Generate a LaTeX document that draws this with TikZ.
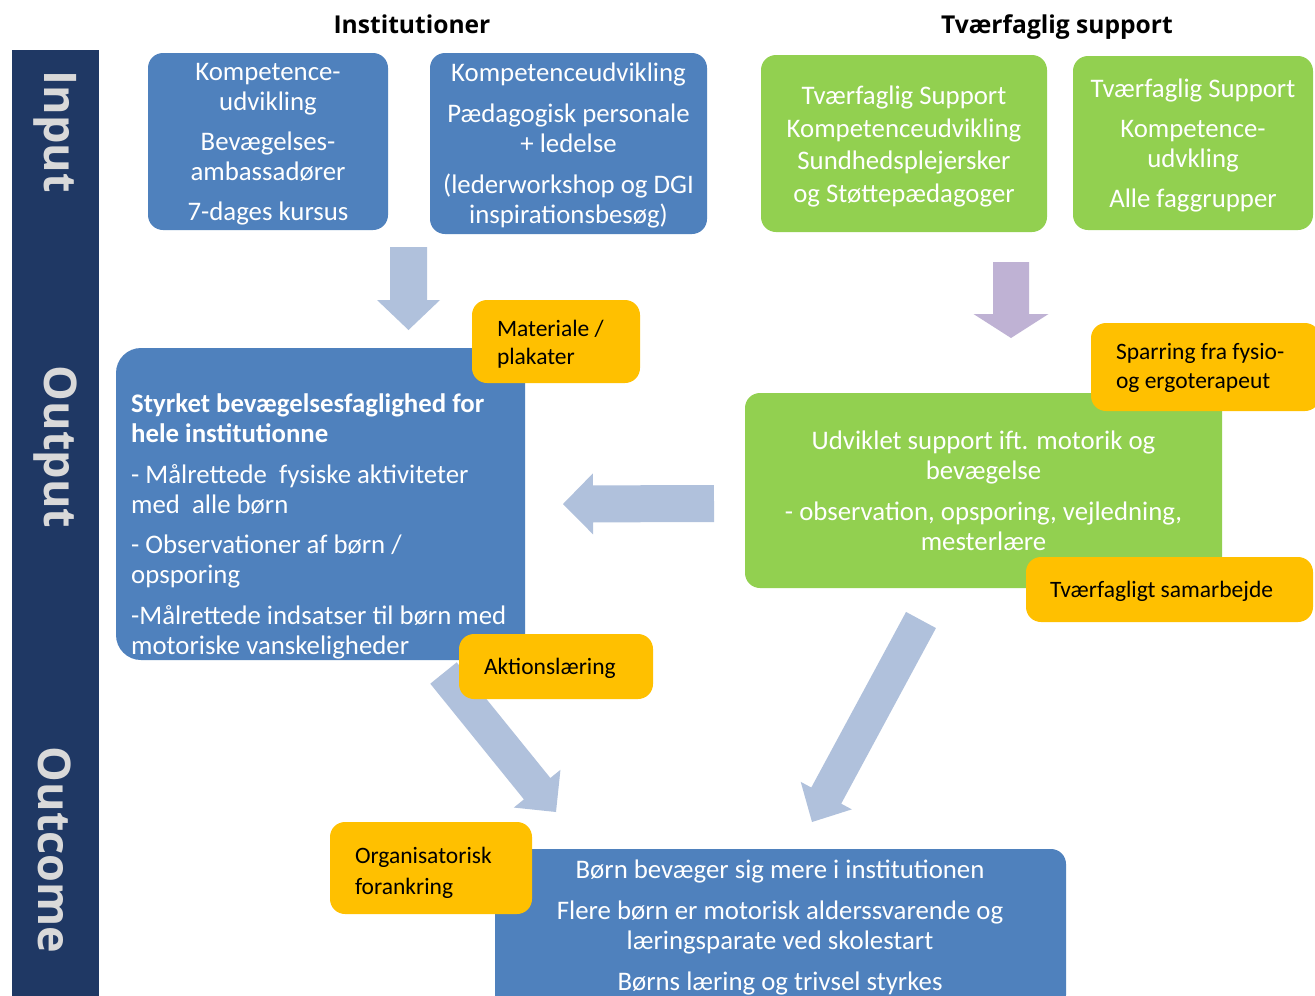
\documentclass[tikz,border=0pt]{standalone}
\usepackage{fontspec}
\setmainfont{Carlito}
\newfontfamily\labelfont{Open Sans}
\usetikzlibrary{calc}
\definecolor{navy}{HTML}{1F3864}
\definecolor{lblgray}{HTML}{D9D9D9}
\definecolor{boxblue}{HTML}{4F81BD}
\definecolor{boxgreen}{HTML}{92D050}
\definecolor{boxyellow}{HTML}{FFC000}
\definecolor{arrblue}{HTML}{B0C1DC}
\definecolor{arrpurple}{HTML}{BFB2D4}
% block arrow: #1 colour, #2 start, #3 tip, #4 shaft half-width, #5 head half-width, #6 head length
\newcommand{\blockarrow}[6]{%
  \path ($(#3)!#6!(#2)$) coordinate (tmpB);
  \fill[#1] ($(#2)!#4!90:(#3)$) -- ($(tmpB)!#4!90:(#3)$) -- ($(tmpB)!#5!90:(#3)$) -- (#3)
    -- ($(tmpB)!#5!-90:(#3)$) -- ($(tmpB)!#4!-90:(#3)$) -- ($(#2)!#4!-90:(#3)$) -- cycle;
}
\tikzset{
  box/.style={rounded corners=15pt, inner sep=0pt},
  bluebox/.style={box, fill=boxblue},
  greenbox/.style={box, fill=boxgreen},
  ybox/.style={box, fill=boxyellow},
  boxtext/.style={inner sep=0pt, align=center, text=white,
    font=\fontsize{26.8}{30}\selectfont},
  ytext/.style={inner sep=0pt, anchor=west, align=left, text=black,
    font=\fontsize{23.5}{29}\selectfont},
  rowlabel/.style={rotate=-90, text=lblgray, inner sep=0pt,
    font=\labelfont\bfseries\fontsize{45}{50}\selectfont},
  header/.style={inner sep=0pt, anchor=base, text=black,
    font=\labelfont\bfseries\fontsize{24.6}{28}\selectfont},
}
\begin{document}
\begin{tikzpicture}[x=1pt,y=-1pt]
\useasboundingbox (0,0) rectangle (1315,996);
\clip (0,0) rectangle (1315,996);
\fill[white] (0,0) rectangle (1315,996);

% side bar
\node[fill=navy, inner sep=0pt, minimum width=87pt, minimum height=960pt, anchor=north west] (bar) at (12,50) {};
\node[rowlabel] (lInput) at (55,132) {Input};
\node[rowlabel] (lOutput) at (55,447) {Output};
\node[rowlabel] (lOutcome) at (55,850) {Outcome};

% headers
\node[header] (hInst) at (412,33) {Institutioner};
\node[header] (hTvf) at (1057,33) {Tværfaglig support};

% input boxes
\node[bluebox, minimum width=240pt, minimum height=177pt] (b1) at (268,141.5) {};
\node[boxtext] (b1t) at ([yshift=-3pt]b1.center)
  {Kompetence-\\udvikling\\[10pt]Bevægelses-\\ambassadører\\[10pt]7-dages kursus};
\node[bluebox, minimum width=277pt, minimum height=181pt] (b2) at (568.5,143.5) {};
\node[boxtext] (b2t) at ([yshift=-2pt]b2.center)
  {Kompetenceudvikling\\[11pt]Pædagogisk personale\\+ ledelse\\[11pt](lederworkshop og DGI\\inspirationsbesøg)};
\node[greenbox, minimum width=286pt, minimum height=177pt] (g1) at (904,143.5) {};
\node[boxtext] (g1t) at ([yshift=-3pt]g1.center)
  {Tværfaglig Support\\[3pt]Kompetenceudvikling\\[2pt]Sundhedsplejersker\\[3pt]og Støttepædagoger};
\node[greenbox, minimum width=240pt, minimum height=174pt] (g2) at (1193,143) {};
\node[boxtext] (g2t) at ([yshift=-2pt]g2.center)
  {Tværfaglig Support\\[10pt]Kompetence-\\udvkling\\[10pt]Alle faggrupper};

% output boxes
\node[bluebox, rounded corners=25pt, minimum width=409pt, minimum height=312pt] (bo) at (320.5,504) {};
\node[boxtext, anchor=north west, align=left] (bot) at (131,393)
  {\textbf{Styrket bevægelsesfaglighed for}\\\textbf{hele institutionne}\\[11pt]- Målrettede\ \ fysiske aktiviteter\\med\ \ alle børn\\[10pt]- Observationer af børn /\\opsporing\\[11pt]-Målrettede indsatser til børn med\\motoriske vanskeligheder};
\node[greenbox, minimum width=477pt, minimum height=195pt] (go) at (983.5,490.5) {};
\node[boxtext] (got) at (go.center)
  {Udviklet support ift. motorik og\\bevægelse\\[11pt]- observation, opsporing, vejledning,\\mesterlære};

% outcome box
\node[bluebox, minimum width=571pt, minimum height=161pt] (bc) at (780.5,929.5) {};
\node[boxtext, anchor=north] (bct) at (780,860)
  {Børn bevæger sig mere i institutionen\\[11pt]Flere børn er motorisk alderssvarende og\\læringsparate ved skolestart\\[11pt]Børns læring og trivsel styrkes};

% arrows
\coordinate (a1s) at (408.5,247); \coordinate (a1e) at (408.5,330);
\coordinate (a2s) at (1011,262);  \coordinate (a2e) at (1011,338);
\coordinate (a3s) at (714,503.5); \coordinate (a3e) at (563,504);
\coordinate (a4s) at (443.5,673); \coordinate (a4e) at (556,812);
\coordinate (a5s) at (921,620);   \coordinate (a5e) at (812,822);
\blockarrow{arrblue}{a1s}{a1e}{18.5pt}{31.5pt}{30pt}
\blockarrow{arrpurple}{a2s}{a2e}{18pt}{37.5pt}{24pt}
\blockarrow{arrblue}{a3s}{a3e}{18.5pt}{30.5pt}{30pt}
\blockarrow{arrblue}{a4s}{a4e}{17pt}{30pt}{30pt}
\blockarrow{arrblue}{a5s}{a5e}{17pt}{29pt}{30pt}

% yellow boxes
\node[ybox, minimum width=168pt, minimum height=83pt] (y1) at (556,341.5) {};
\node[ytext, font=\fontsize{23.5}{28}\selectfont] (y1t) at ([xshift=25pt,yshift=-2.5pt]y1.west) {Materiale /\\plakater};
\node[ybox, minimum width=229pt, minimum height=88pt] (y2) at (1205.5,367) {};
\node[ytext] (y2t) at ([xshift=25pt,yshift=-1pt]y2.west) {Sparring fra fysio-\\og ergoterapeut};
\node[ybox, minimum width=287pt, minimum height=65pt] (y3) at (1169.5,589.5) {};
\node[ytext] (y3t) at ([xshift=24pt,yshift=-2pt]y3.west) {Tværfagligt samarbejde};
\node[ybox, minimum width=194pt, minimum height=65pt] (y4) at (556,666.5) {};
\node[ytext] (y4t) at ([xshift=25pt,yshift=-2pt]y4.west) {Aktionslæring};
\node[ybox, minimum width=202pt, minimum height=92pt] (y5) at (431,868) {};
\node[ytext, font=\fontsize{23.5}{31}\selectfont] (y5t) at ([xshift=25pt,yshift=-5pt]y5.west) {Organisatorisk\\forankring};
\end{tikzpicture}
\end{document}
